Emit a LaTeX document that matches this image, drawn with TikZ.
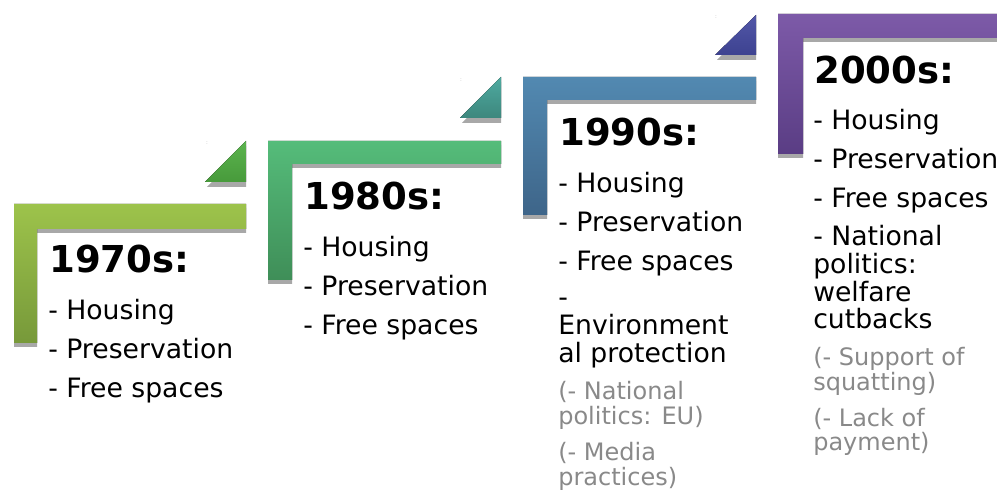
\documentclass[tikz,border=0pt]{standalone}
\usepackage{fontspec}
\setmainfont{DejaVu Sans}
\definecolor{notegray}{RGB}{137,137,137}
\definecolor{shadowgray}{RGB}{168,168,168}
\definecolor{gA}{HTML}{9DC34B}\definecolor{gB}{HTML}{77993A}
\definecolor{tA}{HTML}{5CB44E}\definecolor{tB}{HTML}{479A3B}
\definecolor{hA}{HTML}{55BC7A}\definecolor{hB}{HTML}{3F8E58}
\definecolor{uA}{HTML}{4EAAA0}\definecolor{uB}{HTML}{3D877D}
\definecolor{bA}{HTML}{5289B1}\definecolor{bB}{HTML}{3E6589}
\definecolor{vA}{HTML}{5257A8}\definecolor{vB}{HTML}{3D4290}
\definecolor{pA}{HTML}{7D5AA8}\definecolor{pB}{HTML}{5A3D84}
\tikzset{
  head/.style={font=\fontsize{27.8}{30}\selectfont\bfseries, anchor=base west, inner sep=0pt},
  body/.style={font=\fontsize{20}{22}\selectfont, anchor=base west, inner sep=0pt},
  note/.style={font=\fontsize{18}{20}\selectfont, text=notegray, anchor=base west, inner sep=0pt},
  dots/.style={font=\fontsize{4}{4}\selectfont, text=notegray!60, inner sep=0pt},
  shad/.style={fill=shadowgray},
}
\begin{document}
\begin{tikzpicture}[x=0.75pt,y=-0.75pt]
\useasboundingbox (0,0) rectangle (997,491);
% ---------- step 1 (1970s)
\fill[shad] (14,208) -- (246,208) -- (246,233) -- (37,233) -- (37,347) -- (14,347) -- cycle;
\fill[top color=gA,bottom color=gB] (14,204) -- (246,204) -- (246,229) -- (37,229) -- (37,343) -- (14,343) -- cycle;
\fill[shad] (207,187) -- (246,146) -- (246,187) -- cycle;
\fill[top color=tA,bottom color=tB] (205,182) -- (246,141) -- (246,182) -- cycle;
\node[dots] (d1) at (207,143) {:};
% ---------- step 2 (1980s)
\fill[shad] (268,145) -- (501,145) -- (501,168) -- (292,168) -- (292,284) -- (268,284) -- cycle;
\fill[top color=hA,bottom color=hB] (268,141) -- (501,141) -- (501,164) -- (292,164) -- (292,280) -- (268,280) -- cycle;
\fill[shad] (462,123) -- (501,82) -- (501,123) -- cycle;
\fill[top color=uA,bottom color=uB] (460,118) -- (501,77) -- (501,118) -- cycle;
\node[dots] (d2) at (461,80) {:};
% ---------- step 3 (1990s)
\fill[shad] (523,81) -- (756,81) -- (756,104) -- (547,104) -- (547,219) -- (523,219) -- cycle;
\fill[top color=bA,bottom color=bB] (523,77) -- (756,77) -- (756,100) -- (547,100) -- (547,215) -- (523,215) -- cycle;
\fill[shad] (717,60) -- (756,20) -- (756,60) -- cycle;
\fill[top color=vA,bottom color=vB] (715,55) -- (756,15) -- (756,55) -- cycle;
\node[dots] (d3) at (716,17) {:};
% ---------- step 4 (2000s)
\fill[shad] (778,18) -- (997,18) -- (997,42) -- (803,42) -- (803,158) -- (778,158) -- cycle;
\fill[top color=pA,bottom color=pB] (778,14) -- (997,14) -- (997,38) -- (803,38) -- (803,154) -- (778,154) -- cycle;
% ---------- texts 1970s
\node[head] (h1) at (49,273) {1970s:};
\node[body] (a1) at (48,320) {- Housing};
\node[body] (a2) at (48,359) {- Preservation};
\node[body] (a3) at (48,398) {- Free spaces};
% ---------- texts 1980s
\node[head] (h2) at (304,210) {1980s:};
\node[body] (b1) at (303,257) {- Housing};
\node[body] (b2) at (303,296) {- Preservation};
\node[body] (b3) at (303,335) {- Free spaces};
% ---------- texts 1990s
\node[head] (h3) at (559,146) {1990s:};
\node[body] (c1) at (558,193) {- Housing};
\node[body] (c2) at (558,232) {- Preservation};
\node[body] (c3) at (558,271) {- Free spaces};
\node[body] (c4) at (558,307) {-};
\node[body] (c5) at (558,335) {Environment};
\node[body] (c6) at (558,363) {al protection};
\node[note] (c7) at (558,400) {(- National};
\node[note] (c8) at (558,425) {politics: EU)};
\node[note] (c9) at (558,461) {(- Media};
\node[note] (c10) at (558,486) {practices)};
% ---------- texts 2000s
\node[head] (h4) at (814,84) {2000s:};
\node[body] (e1) at (813,130) {- Housing};
\node[body] (e2) at (813,169) {- Preservation};
\node[body] (e3) at (813,208) {- Free spaces};
\node[body] (e4) at (813,246) {- National};
\node[body] (e5) at (813,274) {politics:};
\node[body] (e6) at (813,302) {welfare};
\node[body] (e7) at (813,329) {cutbacks};
\node[note] (e8) at (813,366) {(- Support of};
\node[note] (e9) at (813,391) {squatting)};
\node[note] (e10) at (813,427) {(- Lack of};
\node[note] (e11) at (813,451) {payment)};
\end{tikzpicture}
\end{document}
